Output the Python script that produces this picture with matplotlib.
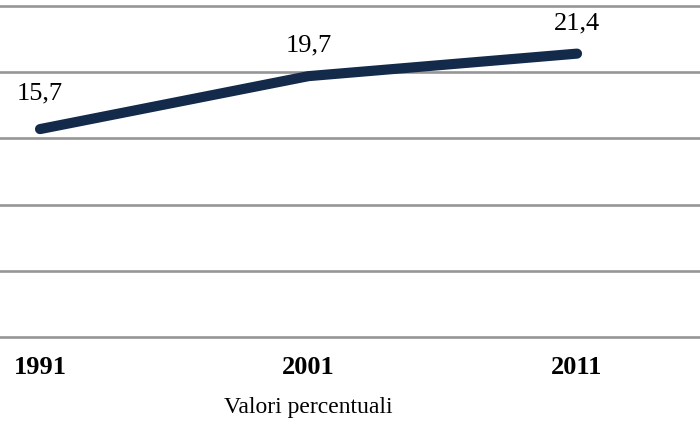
import matplotlib.pyplot as plt

# dati
anni = ["1991", "2001", "2011"]
valori = [15.7, 19.7, 21.4]
etichette = ["15,7", "19,7", "21,4"]
griglia = [0, 5, 10, 15, 20, 25]

plt.rcParams['font.family'] = ['Liberation Serif', 'DejaVu Serif']

fig = plt.figure(figsize=(7, 4.29), dpi=100)
ax = fig.add_axes([0, 0, 1, 1])

x = list(range(len(anni)))

# griglia orizzontale
for g in griglia:
    ax.axhline(g, color='#969696', linewidth=1.9, zorder=1)

ax.plot(x, valori, color='#132a4a', linewidth=7.3, solid_capstyle='round',
        solid_joinstyle='round', zorder=3)

# etichette dei valori
offs = [26, 22, 22]
for xi, v, lab, o in zip(x, valori, etichette, offs):
    ax.annotate(lab, (xi, v), xytext=(0, o), textcoords='offset points',
                ha='center', va='center', fontsize=19, color='black')

# anni sotto l'asse
for xi, a in zip(x, anni):
    ax.text(xi + 0.0, -2.27, a, ha='center', va='center', fontsize=19,
            fontweight='bold', color='black')

ax.text(1, -5.3, "Valori percentuali", ha='center', va='center',
        fontsize=17, color='black')

ax.set_xlim(-0.149, 2.458)
ax.set_ylim(-6.95, 25.45)
ax.axis('off')

fig.savefig("out.png", dpi=100)
